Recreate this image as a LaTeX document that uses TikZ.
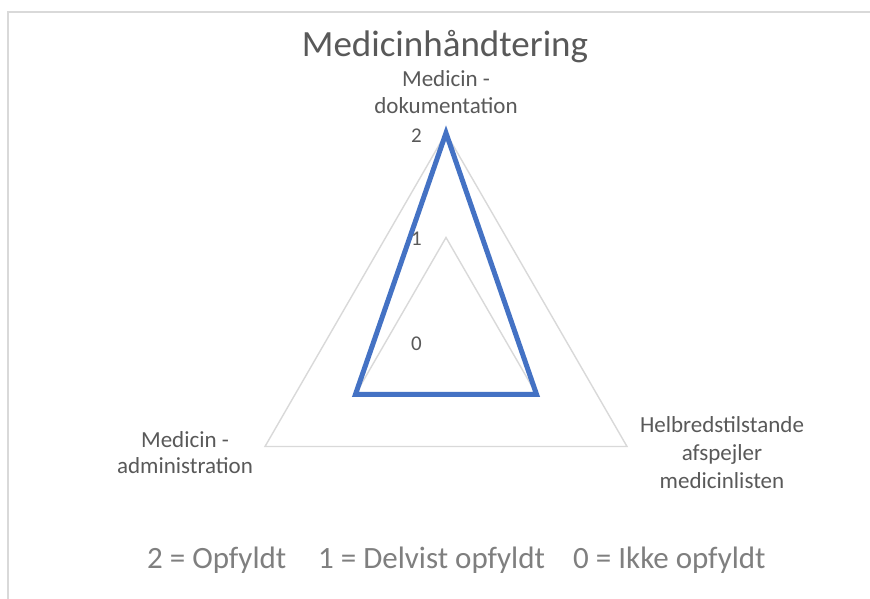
\documentclass[tikz,border=0pt]{standalone}
\usepackage{fontspec}
\setmainfont{Carlito}
\definecolor{gridc}{HTML}{D9D9D9}
\definecolor{txtc}{HTML}{595959}
\definecolor{legc}{HTML}{7F7F7F}
\definecolor{serc}{HTML}{4472C4}
\tikzset{
  grid/.style={draw=gridc, line width=1.4pt, line join=miter},
  series/.style={draw=serc, line width=5pt, line join=miter},
  axlabel/.style={text=txtc, font=\fontsize{23}{28}\selectfont, align=center, inner sep=0pt},
  ticklabel/.style={text=txtc, font=\fontsize{21}{25}\selectfont, anchor=east, inner sep=0pt},
  legend/.style={text=legc, font=\fontsize{31}{36}\selectfont, anchor=base west, inner sep=0pt},
  frame/.style={draw=gridc, line width=2pt}
}
\begin{document}
\begin{tikzpicture}[x=1pt,y=-1pt]
\useasboundingbox (0,0) rectangle (870,599);
\fill[white] (0,0) rectangle (870,599);
\draw[frame] (8,599) |- (870,12);
% center (446,342), R = 209
\coordinate (c) at (446,342);
\coordinate (o1) at (446,133);
\coordinate (o2) at (627,446.5);
\coordinate (o3) at (265,446.5);
\coordinate (i1) at (446,237.5);
\coordinate (i2) at (536.5,394.25);
\coordinate (i3) at (355.5,394.25);
\draw[grid] (o1) -- (o2) -- (o3) -- cycle;
\draw[grid] (i1) -- (i2) -- (i3) -- cycle;
\draw[series] (o1) -- (i2) -- (i3) -- cycle;
\node[ticklabel] (t2) at (422,136) {2};
\node[ticklabel] (t1) at (422,239) {1};
\node[ticklabel] (t0) at (422,344) {0};
\node[text=txtc, font=\fontsize{37}{42}\selectfont, inner sep=0pt, anchor=base] (title) at (445,57) {Medicinhåndtering};
\node[axlabel, anchor=base] (l1) at (446,114) {Medicin -\\dokumentation};
\node[axlabel, anchor=base] (l2) at (722,488) {Helbredstilstande\\afspejler\\medicinlisten};
\node[axlabel, anchor=base, font=\fontsize{23}{26}\selectfont] (l3) at (185,473) {Medicin -\\administration};
\node[legend] (g2) at (147,568) {2 = Opfyldt};
\node[legend] (g1) at (318,568) {1 = Delvist opfyldt};
\node[legend] (g0) at (573,568) {0 = Ikke opfyldt};
\end{tikzpicture}
\end{document}
